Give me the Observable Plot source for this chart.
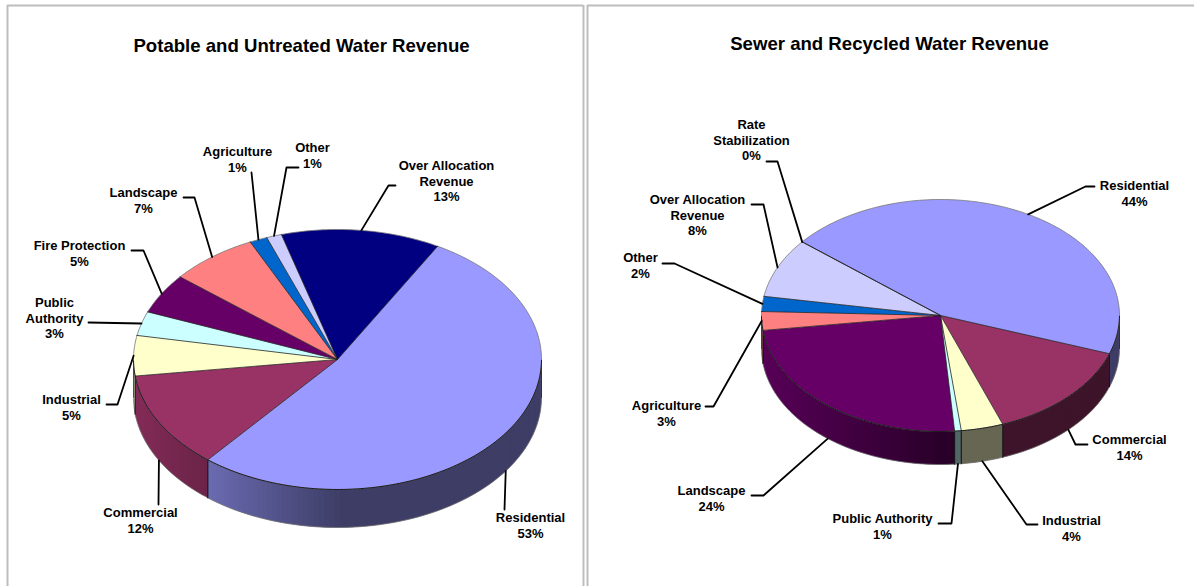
<!DOCTYPE html>
<html>
<head>
<meta charset="utf-8">
<script src="https://cdn.jsdelivr.net/npm/d3@7"></script>
<script src="https://cdn.jsdelivr.net/npm/@observablehq/plot@0.6"></script>
<style>
html,body{margin:0;padding:0;background:#fff;overflow:hidden}
#c{display:flex;width:1194px;height:586px}
svg{display:block}
</style>
</head>
<body>
<div id="c"></div>
<script>
// ---- data: potable and untreated water revenue
const leftTitle = "Potable and Untreated Water Revenue";
const leftNames = ["Residential","Commercial","Industrial","Public\nAuthority","Fire Protection","Landscape","Agriculture","Other","Over Allocation\nRevenue"];
const leftValues = [52.8,12,5,3,5,7,1.4,1.2,12.6];
const leftColors = ["#9999FF","#993366","#FFFFCC","#CCFFFF","#660066","#FF8080","#0066CC","#CCCCFF","#000080"];
// ---- data: sewer and recycled water revenue
const rightTitle = "Sewer and Recycled Water Revenue";
const rightNames = ["Residential","Commercial","Industrial","Public Authority","Landscape","Agriculture","Other","Over Allocation\nRevenue","Rate\nStabilization"];
const rightValues = [44.4,14,3.8,0.6,24.2,2.6,2.1,8.3,0];
const rightColors = ["#9999FF","#993366","#FFFFCC","#CCFFFF","#660066","#FF8080","#0066CC","#CCCCFF","#000080"];

// ---- layout (separate from the data)
const leftLayout = {
  x0:0, x1:585, cx:337, cy:359, rx:204, ry:130, depth:38, start:29.4,
  title:[301,46],
  labels:[[530,525],[140,520],[71,407],[54,318],[79,253],[143,200],[237,159],[312,155],[446,181]],
  elbows:[
    [[504,509]],[[158,504]],[[117,404],[106,404]],[[88,322]],
    [[143,250],[131,250]],[[194,197],[183,197]],[[251,172]],[[286,167],[298,167]],[[388,185],[395,185]]
  ],
  frame:7
};
const rightLayout = {
  x0:585, x1:1194, cx:940, cy:315, rx:179, ry:116, depth:33, start:309.4,
  title:[889,44],
  labels:[[1134,193],[1129,447],[1071,528],[882,526],[711,498],[666,413],[640,265],[697,215],[751,140]],
  elbows:[
    [[1085,186],[1094,186]],[[1075,444],[1087,444]],[[1026,524],[1037,524]],[[951,523],[938,523]],
    [[763,495],[751,495]],[[713,406],[705,406]],[[674,263],[662,263]],[[763,204],[751,204]],[[777,161],[766,161]]
  ],
  frame:587
};

const rad = d => d * Math.PI / 180;
function shade(color, t) {
  // side walls darken from the left edge towards the middle of the pie
  const f = t < 0 ? 0.41 + 0.45 * (-t) : 0.4;
  const c = d3.rgb(color);
  return d3.rgb(c.r * f, c.g * f, c.b * f).formatHex();
}

function pie(title, names, values, colors, L) {
  const total = d3.sum(values);
  const pt = (a, dy = 0) => ({x: L.cx + L.rx * Math.sin(rad(a)), y: L.cy - L.ry * Math.cos(rad(a)) + dy});
  let acc = L.start;
  const slices = values.map((v, i) => {
    const a0 = acc, a1 = acc + v / total * 360;
    acc = a1;
    return {i, a0, a1, mid: (a0 + a1) / 2, color: colors[i], name: names[i], value: v};
  });

  const wedges = [], radii = [], strips = [], seams = [], rimBack = [], rimFront = [], rimLow = [];
  for (const a of d3.range(L.start, L.start + 360.5, 1)) {
    const n = ((a % 360) + 360) % 360;
    if (n >= 90 && n <= 270) {
      rimFront.push({...pt(a)});
      rimLow.push({...pt(a, L.depth)});
    }
  }
  rimFront.sort((p, q) => p.x - q.x);
  rimLow.sort((p, q) => p.x - q.x);
  for (const s of slices) {
    const w = `w${s.i}`;
    wedges.push({id: w, fill: s.color, x: L.cx, y: L.cy});
    const n = Math.max(1, Math.ceil(s.a1 - s.a0));
    for (let k = 0; k <= n; k++) {
      const a = s.a0 + (s.a1 - s.a0) * k / n;
      wedges.push({id: w, fill: s.color, ...pt(a)});
      rimBack.push({id: w, ...pt(a)});
    }
    wedges.push({id: w, fill: s.color, x: L.cx, y: L.cy});
    radii.push({id: w, x: L.cx, y: L.cy}, {id: w, ...pt(s.a0)});
    // front walls: visible between 90 and 270 degrees of the turn
    for (const off of [0, 360, -360]) {
      const lo = Math.max(s.a0 + off, 90), hi = Math.min(s.a1 + off, 270);
      if (hi <= lo) continue;
      seams.push({id: `e${s.i}${off}a`, ...pt(lo)}, {id: `e${s.i}${off}a`, ...pt(lo, L.depth)});
      seams.push({id: `e${s.i}${off}b`, ...pt(hi)}, {id: `e${s.i}${off}b`, ...pt(hi, L.depth)});
      const m = Math.max(1, Math.ceil((hi - lo) / 1.5));
      for (let k = 0; k < m; k++) {
        const p = lo + (hi - lo) * k / m;
        const q = lo + (hi - lo) * (k + 1) / m;
        const end = Math.min(hi, q + (hi - lo) / m);   // overlap the next strip so no seam shows
        const t = (pt((p + q) / 2).x - L.cx) / L.rx;
        const fill = shade(s.color, t), id = `s${s.i}${off}_${k}`;
        for (const c of [pt(p), pt(end), pt(end, L.depth), pt(p, L.depth)]) strips.push({id, fill, ...c});
      }
    }
  }
  // strips are drawn from the middle of the turn outward in the order they were built
  // leaders start on the rim at each slice's middle angle
  const leaders = [];
  slices.forEach((s, i) => {
    const am = ((s.mid % 360) + 360) % 360;
    const front = am > 90 && am < 265;
    const id = `l${i}`;
    leaders.push({id, ...pt(s.mid, front ? L.depth : 0)});
    for (const [x, y] of L.elbows[i]) leaders.push({id, x, y});
  });

  const labels = slices.map((s, i) => ({
    x: L.labels[i][0], y: L.labels[i][1],
    text: `${s.name}\n${Math.round(s.value)}%`
  }));

  return Plot.plot({
    width: L.x1 - L.x0, height: 586,
    marginTop: 0, marginRight: 0, marginBottom: 0, marginLeft: 0,
    style: {background: "#fff"},
    x: {domain: [L.x0, L.x1], range: [0, L.x1 - L.x0], axis: null},
    y: {domain: [0, 586], range: [0, 586], axis: null},
    color: {type: "identity"},
    marks: [
      Plot.ruleX([L.frame], {y1: 5, y2: 586, stroke: "#bdbdbd", strokeWidth: 2}),
      ...(L.frame === 7 ? [Plot.ruleX([583], {y1: 5, y2: 586, stroke: "#bdbdbd", strokeWidth: 2})] : []),
      Plot.ruleY([5], {x1: L.frame, x2: L.frame === 7 ? 583 : 1194, stroke: "#bdbdbd", strokeWidth: 2}),
      Plot.line(strips, {x: "x", y: "y", z: "id", fill: "fill", stroke: "none", curve: "linear-closed"}),
      Plot.line(rimLow, {x: "x", y: "y", stroke: "#777", strokeWidth: 0.8}),
      Plot.line(seams, {x: "x", y: "y", z: "id", stroke: "#111", strokeWidth: 0.7}),
      Plot.line(wedges, {x: "x", y: "y", z: "id", fill: "fill", stroke: "none"}),
      Plot.line(rimBack, {x: "x", y: "y", z: "id", stroke: "#777", strokeWidth: 0.8}),
      Plot.line(rimFront, {x: "x", y: "y", stroke: "#111", strokeWidth: 0.9}),
      Plot.line(radii, {x: "x", y: "y", z: "id", stroke: "#222", strokeWidth: 0.8}),
      Plot.line(leaders, {x: "x", y: "y", z: "id", stroke: "#000", strokeWidth: 1.8, curve: "linear"}),
      Plot.text(labels, {x: "x", y: "y", dy: -0.7, text: "text", fontFamily: "Liberation Sans", fontWeight: "bold", fontSize: 13, lineHeight: 1.2, fill: "#000", textAnchor: "middle"}),
      Plot.text([title], {x: () => L.title[0], y: () => L.title[1], text: d => d, fontFamily: "Liberation Sans", fontWeight: "bold", fontSize: 18.6, fill: "#000", textAnchor: "middle"})
    ]
  });
}

const root = document.getElementById("c");
root.append(pie(leftTitle, leftNames, leftValues, leftColors, leftLayout));
root.append(pie(rightTitle, rightNames, rightValues, rightColors, rightLayout));
</script>
</body>
</html>
